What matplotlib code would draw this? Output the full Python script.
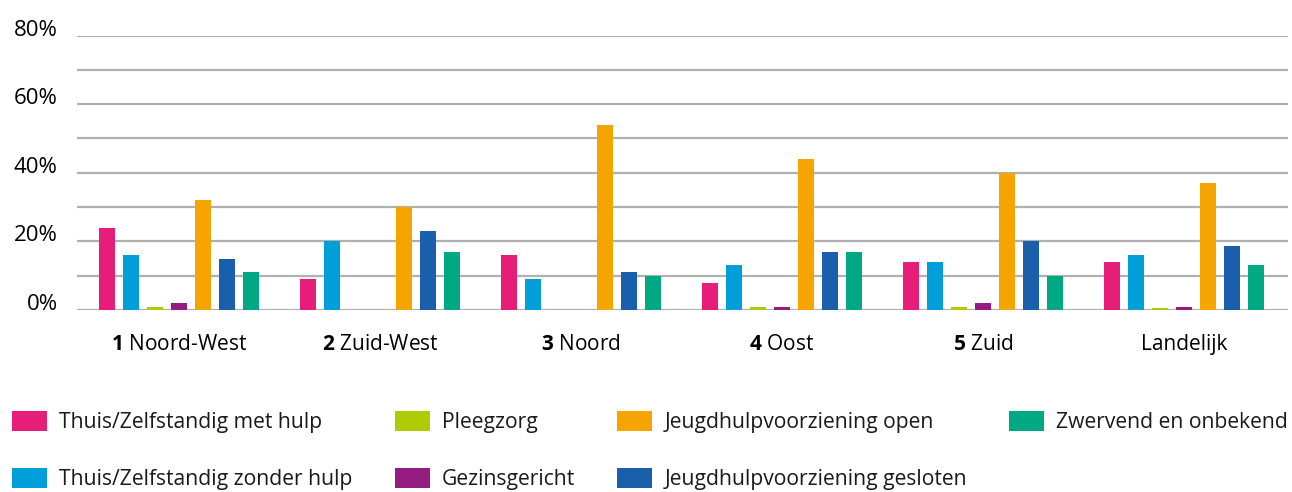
import numpy as np
import matplotlib
matplotlib.use("Agg")
import matplotlib.pyplot as plt
from matplotlib.patches import Patch

# regions on the x axis
regions = [r"$\mathbf{1}$ Noord-West", r"$\mathbf{2}$ Zuid-West", r"$\mathbf{3}$ Noord",
           r"$\mathbf{4}$ Oost", r"$\mathbf{5}$ Zuid", "Landelijk"]

# percentage per place of stay, one list per series
met_hulp = [24, 9, 16, 8, 14, 14]
zonder_hulp = [16, 20, 9, 13, 14, 16]
pleegzorg = [1, 0, 0, 1, 1, 0.7]
gezinsgericht = [2, 0, 0, 1, 2, 1]
jhv_open = [32, 30, 54, 44, 40, 37]
jhv_gesloten = [15, 23, 11, 17, 20, 18.6]
zwervend = [11, 17, 10, 17, 10, 13]

series_names = ["Thuis/Zelfstandig met hulp", "Thuis/Zelfstandig zonder hulp", "Pleegzorg",
                "Gezinsgericht", "Jeugdhulpvoorziening open", "Jeugdhulpvoorziening gesloten",
                "Zwervend en onbekend"]
series_colors = ["#E61E78", "#009FDA", "#AFCB05", "#951B81", "#F6A500", "#1A5FAB", "#00A884"]

y_ticks = [0, 20, 40, 60, 80]
y_labels = ["0%", "20%", "40%", "60%", "80%"]

plt.rcParams['font.family'] = ['Open Sans', 'DejaVu Sans']
plt.rcParams['mathtext.fontset'] = 'custom'
plt.rcParams['mathtext.bf'] = 'Open Sans:bold'
plt.rcParams['mathtext.rm'] = 'Open Sans'
plt.rcParams['text.color'] = '#1a1a1a'

fig = plt.figure(figsize=(12.92, 4.92), dpi=100)
ax = fig.add_axes([77 / 1292, 1 - 310 / 492, (1288 - 77) / 1292, (310 - 35.5) / 492])

data = [met_hulp, zonder_hulp, pleegzorg, gezinsgericht, jhv_open, jhv_gesloten, zwervend]
x = np.arange(len(regions))
step = 0.1194
width = 0.0796
for i, vals in enumerate(data):
    ax.bar(x + (i - 3) * step, vals, width=width, color=series_colors[i], zorder=3)

ax.set_ylim(0, 80)
ax.set_xlim(-0.507, 5.517)
for g in range(0, 81, 10):
    ax.axhline(g, color='#b0b0b0', lw=1.6, zorder=1)

for s in ax.spines.values():
    s.set_visible(False)

ax.set_yticks(y_ticks)
ax.set_yticklabels(y_labels, fontsize=16)
ax.tick_params(axis='y', length=0, pad=14)
for lab in ax.get_yticklabels():
    lab.set_verticalalignment('baseline')

ax.set_xticks(x)
ax.set_xticklabels(regions, fontsize=15)
ax.tick_params(axis='x', length=0, pad=17)

handles = [Patch(facecolor=c, edgecolor='none') for c in series_colors]
fig.legend(handles, series_names, loc='upper left', bbox_to_anchor=(12 / 1292, 1 - 411 / 492),
           ncol=4, frameon=False, fontsize=15.2, handlelength=1.66, handleheight=1.09,
           handletextpad=0.57, labelspacing=1.63, columnspacing=2.0,
           borderpad=0, borderaxespad=0)

fig.savefig("out.png", dpi=100)
